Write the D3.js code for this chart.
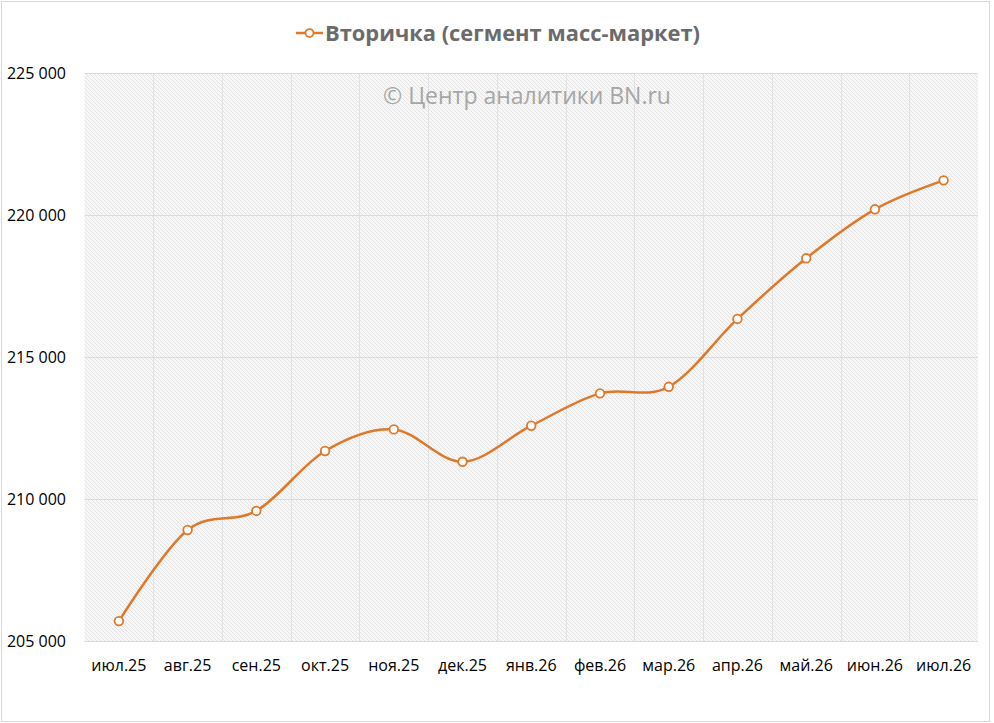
<!DOCTYPE html>
<html><head><meta charset="utf-8">
<script src="https://cdn.jsdelivr.net/npm/d3@7"></script>
<style>
html,body{margin:0;padding:0;background:#fff;}
svg{display:block;font-family:"Open Sans","Noto Sans",sans-serif;}
</style></head>
<body>
<svg id="chart" width="994" height="723"></svg>
<script>
const categories = ["июл.25","авг.25","сен.25","окт.25","ноя.25","дек.25","янв.26","фев.26","мар.26","апр.26","май.26","июн.26","июл.26"];
const values = [205700, 208910, 209580, 211690, 212450, 211310, 212580, 213720, 213950, 216340, 218475, 220200, 221220];
const yTicks = [205000, 210000, 215000, 220000, 225000];
const seriesName = "Вторичка (сегмент масс-маркет)";
const watermark = "© Центр аналитики BN.ru";

const svg = d3.select("#chart");
const W = 994, H = 723;
const m = {left: 84.5, right: 978, top: 73, bottom: 641};
const orange = "#E0782A";

// chart border
svg.append("rect").attr("x",1.5).attr("y",1.5).attr("width",W-6).attr("height",H-3)
  .attr("fill","#fff").attr("stroke","#d9d9d9").attr("stroke-width",1);

// hatch pattern
const defs = svg.append("defs");
const pat = defs.append("pattern").attr("id","hatch").attr("patternUnits","userSpaceOnUse")
  .attr("width",4).attr("height",4);
pat.append("rect").attr("width",4).attr("height",4).attr("fill","#f7f7f7");
pat.append("path").attr("d","M0,0 L4,4 M-1,3 L1,5 M3,-1 L5,1").attr("stroke","#e0e0e0").attr("stroke-width",0.8);

const x = d3.scaleBand().domain(categories).range([m.left, m.right]).padding(0);
const y = d3.scaleLinear().domain([205000, 225000]).range([m.bottom, m.top]);

svg.append("rect").attr("x",m.left).attr("y",m.top).attr("width",m.right-m.left).attr("height",m.bottom-m.top)
  .attr("fill","url(#hatch)");

// vertical gridlines at category boundaries
const g = svg.append("g");
categories.forEach((c,i)=>{
  if(i===0) return;
  const xx = Math.round(x(c))+0.5;
  g.append("line").attr("x1",xx).attr("x2",xx).attr("y1",m.top).attr("y2",m.bottom)
    .attr("stroke","#e2e2e2").attr("stroke-width",1);
});
// horizontal gridlines
yTicks.forEach(t=>{
  const yy = Math.round(y(t))+0.5;
  g.append("line").attr("x1",m.left).attr("x2",m.right).attr("y1",yy).attr("y2",yy)
    .attr("stroke","#dcdcdc").attr("stroke-width",1);
});

// Y axis labels
const fmt = v => d3.format(",")(v).replace(/,/g," ");
const yAxis = d3.axisLeft(y).tickValues(yTicks).tickFormat(fmt).tickSize(0).tickPadding(0);
const ya = svg.append("g").attr("transform","translate(66,0)").call(yAxis);
ya.select(".domain").remove();
ya.selectAll("text").attr("font-size",16).attr("fill","#000").attr("font-family","Open Sans, Noto Sans, sans-serif");

// X axis labels
const xAxis = d3.axisBottom(x).tickSize(0).tickPadding(0);
const xa = svg.append("g").attr("transform",`translate(0,${m.bottom+19})`).call(xAxis);
xa.select(".domain").remove();
xa.selectAll("text").attr("font-size",16).attr("fill","#000").attr("font-family","Open Sans, Noto Sans, sans-serif");

// watermark
svg.append("text").attr("x",527).attr("y",104).attr("text-anchor","middle")
  .attr("font-size",23).attr("fill","#a6a6a6").text(watermark);

// line
const pts = categories.map((c,i)=>[x(c)+x.bandwidth()/2, y(values[i])]);
const line = d3.line().curve(d3.curveCatmullRom.alpha(0));
svg.append("path").attr("d",line(pts)).attr("fill","none").attr("stroke",orange).attr("stroke-width",2.5);
svg.selectAll("circle.pt").data(pts).enter().append("circle").attr("class","pt")
  .attr("cx",d=>d[0]).attr("cy",d=>d[1]).attr("r",4.3)
  .attr("fill","#fff").attr("stroke",orange).attr("stroke-width",1.8);

// legend / title
const lg = svg.append("g");
lg.append("line").attr("x1",296).attr("x2",323).attr("y1",33).attr("y2",33).attr("stroke",orange).attr("stroke-width",2.5);
lg.append("circle").attr("cx",309.5).attr("cy",33).attr("r",4).attr("fill","#fff").attr("stroke",orange).attr("stroke-width",1.75);
lg.append("text").attr("x",325).attr("y",41).attr("font-size",21).attr("font-weight","bold")
  .attr("fill","#6b6b6b").attr("textLength",375).attr("lengthAdjust","spacingAndGlyphs").text(seriesName);
</script>
</body></html>
